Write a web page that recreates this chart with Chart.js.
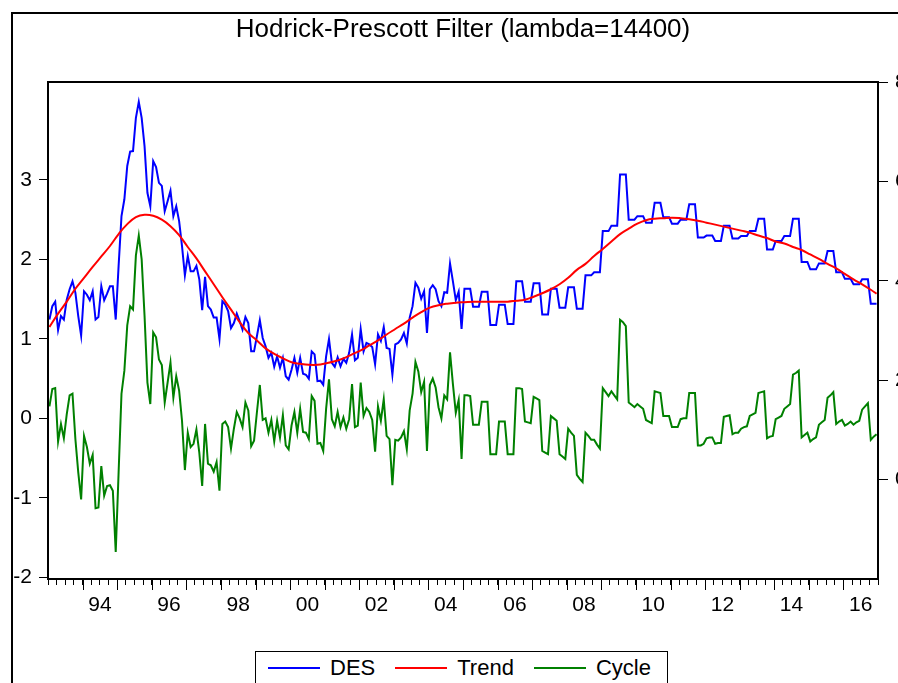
<!DOCTYPE html>
<html>
<head>
<meta charset="utf-8">
<script src="https://cdn.jsdelivr.net/npm/chart.js@4.4.1/dist/chart.umd.min.js"></script>
<style>
  html, body { margin: 0; padding: 0; background: #fff; overflow: hidden; }
  #wrap { position: relative; width: 898px; height: 683px; overflow: hidden; }
  #myChart { position: absolute; left: 0; top: 0; }
  .frame { position: absolute; left: 11px; top: 12px; width: 1000px; height: 1000px;
    border-left: 2px solid #000; border-top: 2px solid #000; }
  .legend { position: absolute; left: 255px; top: 651px; width: 413px; height: 60px;
    border: 1.5px solid #000; background: #fff; display: flex; align-items: flex-start;
    padding-left: 12px; box-sizing: border-box;
    font-family: "Liberation Sans", Arial, sans-serif; font-size: 22px; color: #000; }
  .legend .item { display: flex; align-items: center; height: 32px; margin-right: 20px; }
  .legend .line { width: 52px; height: 2px; margin-right: 10px; }
</style>
</head>
<body>
<div id="wrap">
  <canvas id="myChart" width="940" height="683"></canvas>
  <div class="frame"></div>
  <div class="legend" id="legend"></div>
</div>
<script>
// monthly data, 1993M01 - 2016M12
const startYear = 1993;
const endYear = 2017;

const seriesNames = ["DES", "Trend", "Cycle"];
const seriesColors = ["#0000ff", "#ff0000", "#008000"];

const des = [
  3.22, 3.49, 3.58, 3.01, 3.29, 3.22, 3.62, 3.83, 3.99, 3.76, 3.29, 2.90,
  3.79, 3.72, 3.61, 3.79, 3.22, 3.27, 3.89, 3.61, 3.74, 3.89, 3.89, 3.22,
  4.30, 5.30, 5.64, 6.31, 6.60, 6.61, 7.28, 7.60, 7.28, 6.71, 5.77, 5.50,
  6.41, 6.29, 5.97, 5.91, 5.40, 5.60, 5.81, 5.30, 5.50, 5.20, 4.70, 4.11,
  4.50, 4.19, 4.19, 4.30, 4.03, 3.41, 4.08, 3.49, 3.42, 3.26, 3.26, 2.83,
  3.59, 3.52, 3.39, 3.05, 3.15, 3.34, 3.19, 3.02, 3.27, 3.15, 2.58, 2.58,
  2.89, 3.21, 2.85, 2.68, 2.45, 2.55, 2.27, 2.48, 2.25, 2.45, 2.08, 2.01,
  2.21, 2.45, 2.15, 2.45, 2.13, 2.11, 2.03, 2.58, 2.52, 1.98, 1.99, 1.91,
  2.48, 2.83, 2.35, 2.27, 2.46, 2.28, 2.43, 2.35, 2.55, 2.92, 2.40, 2.45,
  3.03, 2.58, 2.75, 2.72, 2.67, 2.32, 2.92, 2.79, 3.07, 2.65, 2.63, 2.11,
  2.72, 2.75, 2.82, 2.95, 2.74, 3.26, 3.49, 3.96, 3.86, 3.64, 3.79, 2.95,
  3.83, 3.91, 3.83, 3.59, 3.49, 3.77, 3.76, 4.35, 3.99, 3.61, 3.78, 3.03,
  3.84, 3.84, 3.84, 3.48, 3.48, 3.48, 3.78, 3.78, 3.78, 3.11, 3.11, 3.11,
  3.52, 3.52, 3.52, 3.13, 3.13, 3.13, 3.99, 3.99, 3.99, 3.58, 3.58, 3.58,
  3.95, 3.95, 3.95, 3.32, 3.32, 3.32, 3.84, 3.84, 3.84, 3.46, 3.46, 3.46,
  3.87, 3.87, 3.87, 3.44, 3.44, 3.44, 4.11, 4.11, 4.11, 4.17, 4.17, 4.17,
  5.00, 5.00, 5.00, 5.11, 5.11, 5.11, 6.14, 6.14, 6.14, 5.23, 5.23, 5.23,
  5.30, 5.30, 5.30, 5.17, 5.17, 5.17, 5.57, 5.57, 5.57, 5.28, 5.28, 5.28,
  5.15, 5.15, 5.15, 5.23, 5.23, 5.23, 5.54, 5.54, 5.54, 4.87, 4.87, 4.87,
  4.91, 4.91, 4.91, 4.80, 4.80, 4.80, 5.11, 5.11, 5.11, 4.85, 4.85, 4.85,
  4.90, 4.90, 4.90, 5.00, 5.00, 5.00, 5.25, 5.25, 5.25, 4.63, 4.63, 4.63,
  4.80, 4.80, 4.80, 4.90, 4.90, 4.90, 5.25, 5.25, 5.25, 4.38, 4.38, 4.38,
  4.23, 4.23, 4.23, 4.35, 4.35, 4.35, 4.60, 4.60, 4.60, 4.17, 4.17, 4.17,
  4.04, 4.04, 4.04, 3.93, 3.93, 3.93, 4.03, 4.03, 4.03, 3.54, 3.54, 3.54
];

const cycle = [
  0.15, 0.37, 0.38, -0.29, -0.07, -0.25, 0.05, 0.29, 0.31, -0.26, -0.68, -1.02,
  -0.22, -0.36, -0.57, -0.46, -1.13, -1.12, -0.60, -0.97, -0.85, -0.84, -0.91, -1.68,
  -0.68, 0.31, 0.60, 1.17, 1.41, 1.37, 2.05, 2.30, 2.00, 1.29, 0.45, 0.18,
  1.08, 1.02, 0.74, 0.67, 0.20, 0.45, 0.70, 0.26, 0.53, 0.35, -0.03, -0.65,
  -0.18, -0.36, -0.32, -0.14, -0.43, -0.85, -0.07, -0.57, -0.59, -0.67, -0.55, -0.91,
  -0.07, -0.04, -0.11, -0.38, -0.13, 0.08, 0.00, -0.11, 0.20, 0.10, -0.35, -0.28,
  0.08, 0.42, -0.02, 0.00, -0.18, -0.02, -0.29, -0.03, -0.24, 0.04, -0.34, -0.39,
  -0.09, 0.08, -0.18, 0.12, -0.17, -0.18, -0.26, 0.28, 0.22, -0.32, -0.31, -0.41,
  0.12, 0.49, -0.01, -0.10, 0.08, -0.11, 0.01, -0.13, -0.01, 0.43, -0.11, -0.09,
  0.45, 0.03, 0.13, 0.08, -0.02, -0.42, 0.15, -0.03, 0.24, -0.22, -0.26, -0.84,
  -0.27, -0.28, -0.24, -0.16, -0.39, 0.10, 0.31, 0.71, 0.59, 0.33, 0.46, -0.41,
  0.42, 0.50, 0.39, 0.14, 0.00, 0.29, 0.24, 0.83, 0.43, 0.07, 0.23, -0.51,
  0.29, 0.29, 0.28, -0.08, -0.08, -0.08, 0.21, 0.21, 0.21, -0.45, -0.45, -0.45,
  -0.04, -0.04, -0.04, -0.45, -0.45, -0.45, 0.38, 0.38, 0.37, -0.04, -0.05, -0.06,
  0.27, 0.25, 0.23, -0.41, -0.43, -0.45, 0.03, 0.00, -0.03, -0.45, -0.48, -0.51,
  -0.13, -0.18, -0.22, -0.71, -0.76, -0.80, -0.18, -0.22, -0.27, -0.27, -0.33, -0.38,
  0.38, 0.33, 0.28, 0.34, 0.29, 0.24, 1.24, 1.21, 1.16, 0.20, 0.17, 0.14,
  0.18, 0.15, 0.12, -0.02, -0.04, -0.06, 0.34, 0.33, 0.32, 0.03, 0.03, 0.03,
  -0.11, -0.11, -0.11, -0.01, 0.00, 0.00, 0.32, 0.32, 0.32, -0.34, -0.34, -0.32,
  -0.25, -0.24, -0.24, -0.32, -0.31, -0.31, 0.02, 0.03, 0.04, -0.20, -0.18, -0.18,
  -0.13, -0.11, -0.10, 0.03, 0.05, 0.07, 0.32, 0.33, 0.34, -0.25, -0.23, -0.22,
  -0.01, 0.01, 0.03, 0.12, 0.15, 0.18, 0.55, 0.57, 0.60, -0.24, -0.21, -0.18,
  -0.29, -0.26, -0.24, -0.08, -0.05, -0.02, 0.26, 0.29, 0.33, -0.07, -0.04, -0.02,
  -0.09, -0.07, -0.04, -0.08, -0.05, -0.03, 0.11, 0.15, 0.19, -0.27, -0.23, -0.20
];

// trend read every 3rd month (last value = 2016M12)
const trend = [
  3.07, 3.34, 3.58, 3.84, 4.06, 4.28, 4.49, 4.70, 4.94, 5.14, 5.28, 5.33,
  5.31, 5.23, 5.10, 4.92, 4.68, 4.45, 4.19, 3.93, 3.67, 3.42, 3.17, 2.95,
  2.80, 2.64, 2.53, 2.44, 2.36, 2.33, 2.31, 2.31, 2.34, 2.38, 2.44, 2.52,
  2.60, 2.70, 2.80, 2.92, 3.03, 3.14, 3.26, 3.37, 3.46, 3.51, 3.54, 3.56,
  3.57, 3.58, 3.58, 3.58, 3.58, 3.58, 3.60, 3.62, 3.68, 3.75, 3.83, 3.93,
  4.06, 4.22, 4.34, 4.50, 4.64, 4.79, 4.94, 5.05, 5.15, 5.22, 5.25, 5.26,
  5.27, 5.26, 5.24, 5.21, 5.17, 5.13, 5.09, 5.05, 5.01, 4.97, 4.91, 4.86,
  4.79, 4.75, 4.68, 4.62, 4.53, 4.44, 4.34, 4.25, 4.14, 4.03, 3.93, 3.82,
  3.74
];
const trendMonths = trend.map((v, k) => Math.min(k * 3, des.length - 1));

const labelYears = [1994, 1996, 1998, 2000, 2002, 2004, 2006, 2008, 2010, 2012, 2014, 2016];
const yearLabels = ["94", "96", "98", "00", "02", "04", "06", "08", "10", "12", "14", "16"];
const cycleTicks = [-2, -1, 0, 1, 2, 3];
const levelTicks = [0, 2, 4, 6, 8];

const W = 940, H = 683;
const area = { left: 48, right: 878, top: 82, bottom: 579 };
const fontFamily = '"Liberation Sans", Arial, sans-serif';

const xOf = (i) => startYear + (i + 0.5) / 12;

let quarters = [];
for (let q = startYear; q <= endYear; q += 0.25) quarters.push(q);

// plot frame + long yearly ticks
const framePlugin = {
  id: "frame",
  afterDraw(chart) {
    const ctx = chart.ctx;
    const a = chart.chartArea;
    const x = chart.scales.x;
    ctx.save();
    ctx.strokeStyle = "#000";
    ctx.lineWidth = 2;
    ctx.strokeRect(a.left, a.top, a.right - a.left, a.bottom - a.top);
    ctx.lineWidth = 1;
    for (let yr = startYear + 1; yr < endYear; yr++) {
      const px = Math.round(x.getPixelForValue(yr)) + 0.5;
      ctx.beginPath();
      ctx.moveTo(px, a.bottom);
      ctx.lineTo(px, a.bottom + 11);
      ctx.stroke();
    }
    ctx.restore();
  },
};

Chart.defaults.font.family = fontFamily;
Chart.defaults.color = "#000";

new Chart(document.getElementById("myChart"), {
  type: "line",
  data: {
    datasets: [
      {
        label: seriesNames[1],
        data: trend.map((v, k) => ({ x: xOf(trendMonths[k]), y: v })),
        borderColor: seriesColors[1],
        borderWidth: 2,
        pointRadius: 0,
        tension: 0.4,
        yAxisID: "y2",
        order: 0,
      },
      {
        label: seriesNames[0],
        data: des.map((v, i) => ({ x: xOf(i), y: v })),
        borderColor: seriesColors[0],
        borderWidth: 2,
        pointRadius: 0,
        tension: 0,
        yAxisID: "y2",
        order: 1,
      },
      {
        label: seriesNames[2],
        data: cycle.map((v, i) => ({ x: xOf(i), y: v })),
        borderColor: seriesColors[2],
        borderWidth: 2,
        pointRadius: 0,
        tension: 0,
        yAxisID: "y",
        order: 2,
      },
    ],
  },
  options: {
    responsive: false,
    animation: false,
    layout: { padding: 0 },
    plugins: {
      legend: { display: false },
      tooltip: { enabled: false },
      title: {
        display: true,
        text: "Hodrick-Prescott Filter (lambda=14400)",
        fullSize: false,
        color: "#000",
        font: { size: 26, weight: "normal", lineHeight: 1.2 },
        padding: { top: 14, bottom: 82 - 14 - 31.2 },
      },
    },
    scales: {
      x: {
        type: "linear",
        min: startYear,
        max: endYear,
        afterBuildTicks: (s) => { s.ticks = quarters.map((v) => ({ value: v })); },
        afterFit: (s) => { s.height = H - area.bottom; },
        ticks: {
          autoSkip: false,
          maxRotation: 0,
          minRotation: 0,
          padding: 8,
          font: { size: 21 },
          callback: (v) => {
            const k = labelYears.indexOf(v - 0.5);
            return k >= 0 ? yearLabels[k] : "";
          },
        },
        grid: { drawOnChartArea: false, tickLength: 6, tickColor: "#000", tickWidth: 1 },
        border: { display: false },
      },
      y: {
        position: "left",
        min: -2.02,
        max: 4.23,
        afterBuildTicks: (s) => { s.ticks = cycleTicks.map((v) => ({ value: v })); },
        afterFit: (s) => { s.width = area.left; },
        ticks: { padding: 7, font: { size: 21 } },
        grid: { drawOnChartArea: false, tickLength: 9, tickColor: "#000", tickWidth: 1 },
        border: { display: false },
      },
      y2: {
        position: "right",
        min: -2,
        max: 8,
        afterBuildTicks: (s) => { s.ticks = levelTicks.map((v) => ({ value: v })); },
        afterFit: (s) => { s.width = W - area.right; },
        ticks: { padding: 7, font: { size: 21 } },
        grid: { drawOnChartArea: false, tickLength: 10, tickColor: "#000", tickWidth: 1 },
        border: { display: false },
      },
    },
  },
  plugins: [framePlugin],
});

// legend box
const legendBox = document.getElementById("legend");
[0, 1, 2].forEach((k) => {
  const item = document.createElement("div");
  item.className = "item";
  item.innerHTML = `<span class="line" style="background:${seriesColors[k]}"></span><span>${seriesNames[k]}</span>`;
  legendBox.appendChild(item);
});
</script>
</body>
</html>
